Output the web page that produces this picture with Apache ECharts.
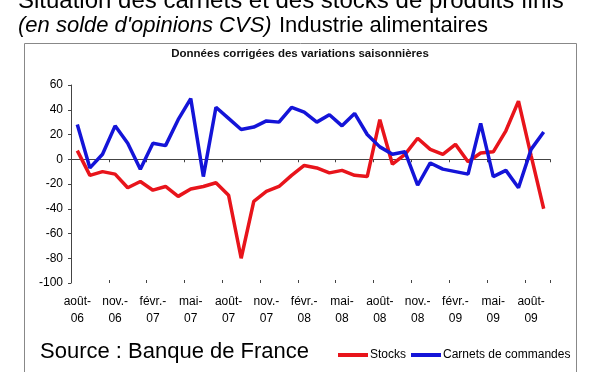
<!DOCTYPE html>
<html>
<head>
<meta charset="utf-8">
<script src="https://cdn.jsdelivr.net/npm/echarts@6/dist/echarts.min.js"></script>
<style>
html,body{margin:0;padding:0;background:#fff;}
#c{width:600px;height:372px;}
</style>
</head>
<body>
<div id="c"></div>
<script>
const months = ["août-06","sept.-06","oct.-06","nov.-06","déc.-06","janv.-07","févr.-07","mars-07","avr.-07","mai-07","juin-07","juil.-07",
"août-07","sept.-07","oct.-07","nov.-07","déc.-07","janv.-08","févr.-08","mars-08","avr.-08","mai-08","juin-08","juil.-08",
"août-08","sept.-08","oct.-08","nov.-08","déc.-08","janv.-09","févr.-09","mars-09","avr.-09","mai-09","juin-09","juil.-09",
"août-09","sept.-09"];
const stocks = [7,-13,-10,-12,-23,-18,-25,-22,-30,-24,-22,-19,
-29,-80,-34,-26,-22,-13,-5,-7,-11,-9,-13,-14,
32,-4,4,17,8,4,12,-2,5,6,23,47,
3,-40];
const carnets = [28,-7,4,27,13,-8,13,11,32,49,-14,42,
33,24,26,31,30,42,38,30,36,27,37,20,
10,4,6,-21,-3,-8,-10,-12,29,-14,-9,-23,
8,22];
const yTicks = {min:-100, max:60, step:20};

const chart = echarts.init(document.getElementById('c'), null, {renderer:'canvas'});
const FONT = '"Liberation Sans", Arial, sans-serif';
function lab(v){ const p = v.split('-'); return p[0] + '-\n' + p[1]; }

const baseX = {type:'category', data:months, boundaryGap:true, position:'bottom', gridIndex:0};

chart.setOption({
  animation:false,
  backgroundColor:'#fff',
  textStyle:{fontFamily:FONT},
  grid:{left:71, right:50, top:85, bottom:89, containLabel:false},
  legend:{
    data:[{name:'Stocks'},{name:'Carnets de commandes'}],
    left:333, top:344, icon:'rect', itemWidth:30, itemHeight:4, itemGap:5,
    textStyle:{fontFamily:FONT, fontSize:12, color:'#000', padding:[0,0,0,-3]}
  },
  xAxis:[
    Object.assign({}, baseX, {
      axisLine:{show:true, onZero:true, lineStyle:{color:'#444', width:1}},
      axisTick:{show:true, interval:2, length:3, inside:false, lineStyle:{color:'#444'}},
      axisLabel:{show:false}, splitLine:{show:false}
    }),
    Object.assign({}, baseX, {
      axisLine:{show:false, onZero:true},
      axisTick:{show:true, interval:2, length:3, inside:true, lineStyle:{color:'#444'}},
      axisLabel:{show:false}, splitLine:{show:false}
    }),
    Object.assign({}, baseX, {
      axisLine:{show:false, onZero:false},
      axisTick:{show:false},
      axisLabel:{show:true, interval:2, margin:10, formatter:lab, fontFamily:FONT, fontSize:12, color:'#000', lineHeight:17},
      splitLine:{show:false}
    })
  ],
  yAxis:{
    type:'value', min:yTicks.min, max:yTicks.max, interval:yTicks.step,
    axisLine:{show:true, lineStyle:{color:'#444'}},
    axisTick:{show:true, length:3, lineStyle:{color:'#444'}},
    axisLabel:{fontFamily:FONT, fontSize:12, color:'#000', margin:8},
    splitLine:{show:false}
  },
  series:[
    {name:'Stocks', type:'line', data:stocks, xAxisIndex:0, symbol:'none', lineStyle:{color:'#e8141b', width:3.5}, itemStyle:{color:'#e8141b'}},
    {name:'Carnets de commandes', type:'line', data:carnets, xAxisIndex:0, symbol:'none', lineStyle:{color:'#1414d8', width:3.5}, itemStyle:{color:'#1414d8'}}
  ],
  graphic:[
    {type:'rect', shape:{x:24.5, y:43.5, width:552, height:340}, style:{fill:null, stroke:'#888', lineWidth:1}, silent:true},
    {type:'text', left:18, top:-11, style:{text:'Situation des carnets et des stocks de produits finis', font:'24px "Liberation Sans", Arial, sans-serif', fill:'#000'}},
    {type:'text', left:18, top:15, style:{text:'(en solde d\'opinions CVS)', font:'italic 22px "Liberation Sans", Arial, sans-serif', fill:'#000'}},
    {type:'text', left:279, top:15, style:{text:'Industrie alimentaires', font:'22px "Liberation Sans", Arial, sans-serif', fill:'#000'}},
    {type:'text', left:'center', top:48, style:{text:'Données corrigées des variations saisonnières', font:'bold 11.5px "Liberation Sans", Arial, sans-serif', fill:'#111'}},
    {type:'text', left:40, top:341, style:{text:'Source : Banque de France', font:'22px "Liberation Sans", Arial, sans-serif', fill:'#000'}}
  ]
});
</script>
</body>
</html>
